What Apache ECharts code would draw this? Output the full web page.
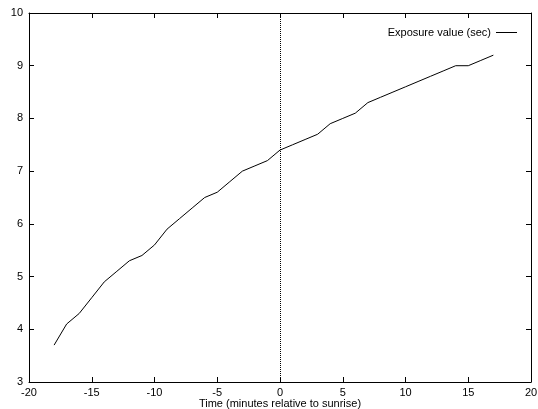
<!DOCTYPE html>
<html>
<head>
<meta http-equiv="Content-Type" content="text/html; charset=utf8">
<title>Exposure value</title>
<script src="https://cdn.jsdelivr.net/npm/echarts@6/dist/echarts.min.js"></script>
<style type="text/css">
html,body{margin:0;padding:0;background:#fff;}
#main{width:538px;height:409px;}
</style>
</head>
<body>
<div id="main"></div>
<script>
// minutes relative to sunrise
var minutes = [-18,-17,-16,-15,-14,-13,-12,-11,-10,-9,-8,-7,-6,-5,-4,-3,-2,-1,0,1,2,3,4,5,6,7,8,9,10,11,12,13,14,15,16,17];
// exposure value (sec)
var exposure = [3.7,4.1,4.3,4.6,4.9,5.1,5.3,5.4,5.6,5.9,6.1,6.3,6.5,6.6,6.8,7.0,7.1,7.2,7.4,7.5,7.6,7.7,7.9,8.0,8.1,8.3,8.4,8.5,8.6,8.7,8.8,8.9,9.0,9.0,9.1,9.2];

var seriesName = 'Exposure value (sec)';
var xTitle = 'Time (minutes relative to sunrise)';

var font = 'Liberation Sans, Arial, sans-serif';

var points = [];
for (var i = 0; i < minutes.length; i++) {
	points.push([minutes[i], exposure[i]]);
}

var chart = echarts.init(document.getElementById('main'));

var baseAxis = {
	type:'value',
	axisLine:{show:true, onZero:false, lineStyle:{color:'#000', width:1}},
	axisTick:{show:true, inside:true, length:5, lineStyle:{color:'#000', width:1}},
	splitLine:{show:false},
	axisLabel:{color:'#000', fontFamily:font, fontSize:11}
};

var option = {
	animation:false,
	backgroundColor:'#fff',
	grid:{left:29, right:7, top:13, bottom:27, outerBoundsMode:'none'},
	legend:{
		data:[seriesName],
		right:16, top:22,
		align:'right',
		icon:'rect',
		itemWidth:21, itemHeight:1,
		itemGap:4,
		textStyle:{color:'#000', fontFamily:font, fontSize:11}
	},
	xAxis:[
		Object.assign({}, baseAxis, {
			min:-20, max:20, interval:5,
			position:'bottom',
			name:xTitle, nameLocation:'middle', nameGap:16,
			nameMoveOverlap:false,
			nameTextStyle:{color:'#000', fontFamily:font, fontSize:11, verticalAlign:'top'},
			axisLabel:{color:'#000', fontFamily:font, fontSize:11, margin:5}
		}),
		Object.assign({}, baseAxis, {
			min:-20, max:20, interval:5,
			position:'top',
			axisLabel:{show:false}
		})
	],
	yAxis:[
		Object.assign({}, baseAxis, {
			min:3, max:10, interval:1,
			position:'left',
			axisLabel:{color:'#000', fontFamily:font, fontSize:11, margin:6}
		}),
		Object.assign({}, baseAxis, {
			min:3, max:10, interval:1,
			position:'right',
			axisLabel:{show:false}
		})
	],
	series:[{
		name:seriesName,
		type:'line',
		data:points,
		symbol:'none',
		lineStyle:{color:'#000', width:1},
		itemStyle:{color:'#000'},
		markLine:{
			silent:true,
			symbol:['none','none'],
			label:{show:false},
			lineStyle:{color:'#000', width:1, type:'dotted'},
			data:[{xAxis:0}]
		}
	}]
};

chart.setOption(option);
</script>
</body>
</html>
